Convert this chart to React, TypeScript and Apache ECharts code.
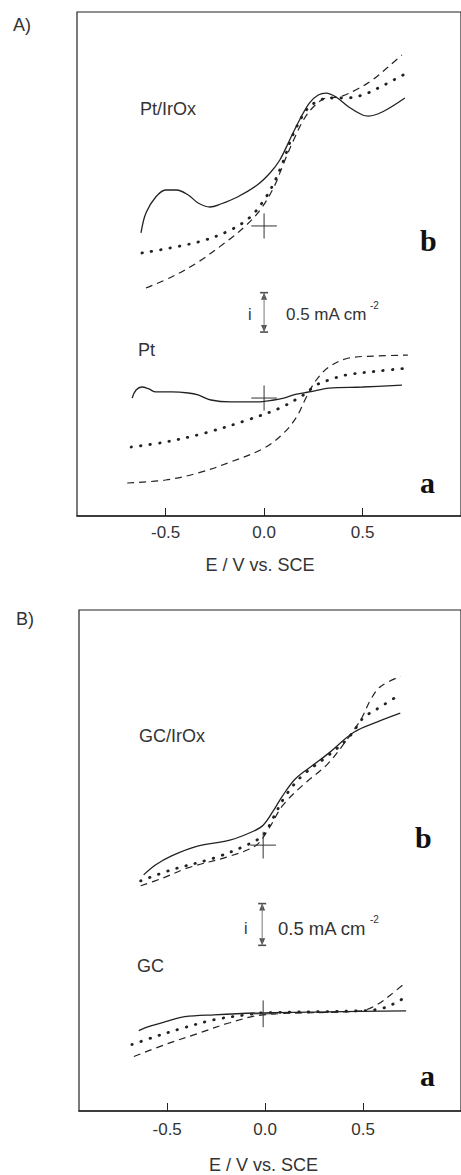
import { useEffect, useRef } from "react";
import * as echarts from "echarts";

// ---------- Data (E / V vs. SCE, i / mA cm^-2 with arbitrary offsets) ----------
// Panel A, curve b: Pt/IrOx
const ptIrOxSolid: [number, number][] = [
  [-0.625, 3.594], [-0.6, 3.848], [-0.55, 4.051], [-0.5, 4.14], [-0.445, 4.14],
  [-0.385, 4.076], [-0.335, 3.975], [-0.275, 3.924], [-0.22, 3.962], [-0.135, 4.051],
  [-0.035, 4.203], [0.03, 4.356], [0.08, 4.521], [0.13, 4.775], [0.18, 5.029],
  [0.23, 5.244], [0.275, 5.346], [0.315, 5.371], [0.365, 5.321], [0.43, 5.194],
  [0.5, 5.092], [0.53, 5.079], [0.6, 5.13], [0.715, 5.308],
];
const ptIrOxDotted: [number, number][] = [
  [-0.62, 3.34], [-0.335, 3.479], [-0.17, 3.632], [-0.07, 3.797], [0.0, 4.013],
  [0.05, 4.229], [0.1, 4.521], [0.13, 4.737], [0.165, 4.94], [0.215, 5.156],
  [0.265, 5.257], [0.33, 5.308], [0.415, 5.308], [0.5, 5.346], [0.58, 5.435],
  [0.715, 5.613],
];
const ptIrOxDashed: [number, number][] = [
  [-0.6, 2.895], [-0.47, 3.035], [-0.335, 3.225], [-0.2, 3.467], [-0.1, 3.67],
  [-0.02, 3.886], [0.05, 4.178], [0.1, 4.483], [0.15, 4.775], [0.2, 5.029],
  [0.25, 5.194], [0.315, 5.308], [0.38, 5.321], [0.465, 5.41], [0.55, 5.537],
  [0.63, 5.702], [0.7, 5.854],
];
// Panel A, curve a: Pt
const ptSolid: [number, number][] = [
  [-0.67, 1.498], [-0.65, 1.6], [-0.62, 1.638], [-0.585, 1.613], [-0.55, 1.575],
  [-0.47, 1.575], [-0.385, 1.562], [-0.335, 1.537], [-0.27, 1.473], [-0.17, 1.448],
  [-0.035, 1.448], [0.05, 1.473], [0.1, 1.498], [0.165, 1.549], [0.23, 1.575],
  [0.33, 1.625], [0.5, 1.638], [0.7, 1.663],
];
const ptDotted: [number, number][] = [
  [-0.675, 0.876], [-0.5, 0.94], [-0.3, 1.054], [-0.085, 1.219], [0.08, 1.371],
  [0.2, 1.537], [0.265, 1.663], [0.33, 1.727], [0.415, 1.79], [0.58, 1.841],
  [0.73, 1.879],
];
const ptDashed: [number, number][] = [
  [-0.695, 0.419], [-0.5, 0.457], [-0.335, 0.546], [-0.17, 0.686], [0.0, 0.863],
  [0.1, 1.054], [0.165, 1.257], [0.215, 1.511], [0.265, 1.727], [0.33, 1.892],
  [0.43, 2.006], [0.58, 2.032], [0.73, 2.044],
];
// Panel B, curve b: GC/IrOx
const gcIrOxSolid: [number, number][] = [
  [-0.62, 2.828], [-0.56, 2.946], [-0.48, 3.053], [-0.345, 3.172], [-0.18, 3.243],
  [-0.06, 3.35], [-0.01, 3.422], [0.04, 3.588], [0.09, 3.778], [0.155, 3.98],
  [0.24, 4.134], [0.32, 4.277], [0.455, 4.538], [0.57, 4.657], [0.69, 4.764],
];
const gcIrOxDotted: [number, number][] = [
  [-0.635, 2.756], [-0.48, 2.887], [-0.26, 3.03], [-0.095, 3.184], [-0.01, 3.303],
  [0.04, 3.505], [0.105, 3.778], [0.19, 4.016], [0.32, 4.253], [0.42, 4.455],
  [0.47, 4.61], [0.505, 4.717], [0.57, 4.812], [0.69, 4.99],
];
const gcIrOxDashed: [number, number][] = [
  [-0.635, 2.697], [-0.52, 2.792], [-0.395, 2.911], [-0.18, 3.053], [-0.045, 3.184],
  [0.02, 3.386], [0.09, 3.659], [0.19, 3.897], [0.32, 4.158], [0.42, 4.455],
  [0.49, 4.693], [0.54, 4.931], [0.59, 5.085], [0.69, 5.204],
];
// Panel B, curve a: GC
const gcSolid: [number, number][] = [
  [-0.645, 0.962], [-0.595, 1.01], [-0.51, 1.069], [-0.41, 1.129], [-0.26, 1.152],
  [-0.01, 1.176], [0.32, 1.188], [0.72, 1.2],
];
const gcDotted: [number, number][] = [
  [-0.68, 0.796], [-0.56, 0.891], [-0.43, 0.986], [-0.26, 1.093], [-0.095, 1.152],
  [-0.01, 1.176], [0.49, 1.2], [0.59, 1.224], [0.655, 1.283], [0.72, 1.366],
];
const gcDashed: [number, number][] = [
  [-0.67, 0.653], [-0.51, 0.796], [-0.345, 0.927], [-0.18, 1.057], [-0.01, 1.152],
  [0.49, 1.2], [0.57, 1.271], [0.64, 1.39], [0.72, 1.544],
];

// zero-current crosses [E, i]
const crossesA: [number, number][] = [[0.0, 3.683], [0.0, 1.498]];
const crossesB: [number, number][] = [[-0.01, 3.184], [-0.01, 1.164]];
// scale bars: [E, i bottom, i top]  (0.5 mA cm^-2)
const scaleBarA: [number, number, number] = [0.0, 2.336, 2.836];
const scaleBarB: [number, number, number] = [-0.015, 1.984, 2.484];

const xTicks = [-0.5, 0, 0.5];
const xRange: [number, number] = [-0.95, 1.0];
const yRangeA: [number, number] = [0, 6.4];
const yRangeB: [number, number] = [0, 6.0];

const SANS = "'Liberation Sans', Arial, sans-serif";
const SERIF = "'Liberation Serif', 'Times New Roman', serif";
const TXT = "#333";
const INK = "#222";

export default function App() {
  const ref = useRef<HTMLDivElement>(null);

  useEffect(() => {
    document.body.style.margin = "0";
    if (!ref.current) return;
    const chart = echarts.init(ref.current, undefined, { renderer: "svg" });

    const solid = { color: INK, width: 1.3, type: "solid" as const };
    const dotted = { color: INK, width: 2.8, type: [0.5, 9] as any, cap: "round" as const };
    const dashed = { color: INK, width: 1.2, type: [7, 5] as any };

    const curve = (data: [number, number][], style: any, g: number) => ({
      type: "line",
      xAxisIndex: g,
      yAxisIndex: g,
      data,
      smooth: 0.35,
      symbol: "none",
      silent: true,
      lineStyle: style,
      z: 3,
    });

    const CROSS_DX = 0.065;
    const CROSS_DY = 0.16;
    const crossSeries = (pts: [number, number][], g: number) =>
      pts.flatMap(([x, y]) => [
        {
          type: "line", xAxisIndex: g, yAxisIndex: g, symbol: "none", silent: true,
          data: [[x - CROSS_DX, y], [x + CROSS_DX, y]],
          lineStyle: { color: TXT, width: 1 },
        },
        {
          type: "line", xAxisIndex: g, yAxisIndex: g, symbol: "none", silent: true,
          data: [[x, y - CROSS_DY], [x, y + CROSS_DY]],
          lineStyle: { color: TXT, width: 1 },
        },
      ]);

    const scaleBar = (b: [number, number, number], g: number) => [
      {
        type: "line", xAxisIndex: g, yAxisIndex: g, symbol: "none", silent: true,
        data: [[b[0], b[1]], [b[0], b[2]]],
        lineStyle: { color: "#777", width: 1 },
      },
      {
        type: "scatter", xAxisIndex: g, yAxisIndex: g, silent: true,
        symbol: "triangle", symbolSize: [6, 7],
        itemStyle: { color: INK },
        data: [
          { value: [b[0], b[2]], symbolOffset: [0, 3.5] },
          { value: [b[0], b[1]], symbolRotate: 180, symbolOffset: [0, -3.5] },
        ],
      },
      {
        type: "scatter", xAxisIndex: g, yAxisIndex: g, silent: true,
        symbol: "rect", symbolSize: [8, 1.6],
        itemStyle: { color: INK },
        data: [[b[0], b[1]], [b[0], b[2]]],
      },
    ];

    const xAxis = (g: number, margin: number, nameGap: number, shift: number) => ({
      type: "value",
      gridIndex: g,
      min: xRange[0],
      max: xRange[1],
      splitLine: { show: false },
      axisLine: { show: true, lineStyle: { color: INK, width: 1.5 } },
      axisTick: {
        show: true, inside: true, length: 8, customValues: xTicks,
        lineStyle: { color: INK, width: 1 },
      },
      axisLabel: {
        customValues: xTicks,
        formatter: (v: number) => Number(v).toFixed(1),
        fontSize: 17, color: TXT, fontFamily: SANS, margin,
      },
      name: "E / V vs. SCE",
      nameLocation: "middle",
      nameGap,
      nameTextStyle: { fontSize: 18, color: TXT, fontFamily: SANS, padding: [0, shift, 0, 0] },
    });

    const yAxis = (g: number, r: [number, number]) => ({
      type: "value", gridIndex: g, min: r[0], max: r[1], show: false,
    });

    const text = (t: string, x: number, y: number, size: number, extra: any = {}) => ({
      type: "text",
      x, y,
      silent: true,
      style: {
        text: t, fill: TXT, font: `${size}px ${SANS}`,
        textVerticalAlign: "middle", verticalAlign: "middle", ...extra,
      },
    });
    const bigLetter = (t: string, x: number, y: number) => ({
      type: "text", x, y, silent: true,
      style: {
        text: t, fill: "#111", font: `bold 30px ${SERIF}`,
        textVerticalAlign: "middle", verticalAlign: "middle",
      },
    });

    chart.setOption({
      animation: false,
      backgroundColor: "#fff",
      grid: [
        { left: 77, top: 12, width: 390, height: 504, show: true, borderColor: INK, borderWidth: 1.2, backgroundColor: "transparent" },
        { left: 79, top: 610, width: 390, height: 505, show: true, borderColor: INK, borderWidth: 1.2, backgroundColor: "transparent" },
      ],
      xAxis: [xAxis(0, 8, 40, 18), xAxis(1, 10, 45, 13)],
      yAxis: [yAxis(0, yRangeA), yAxis(1, yRangeB)],
      series: [
        curve(ptIrOxSolid, solid, 0),
        curve(ptIrOxDotted, dotted, 0),
        curve(ptIrOxDashed, dashed, 0),
        curve(ptSolid, solid, 0),
        curve(ptDotted, dotted, 0),
        curve(ptDashed, dashed, 0),
        curve(gcIrOxSolid, solid, 1),
        curve(gcIrOxDotted, dotted, 1),
        curve(gcIrOxDashed, dashed, 1),
        curve(gcSolid, solid, 1),
        curve(gcDotted, dotted, 1),
        curve(gcDashed, dashed, 1),
        ...crossSeries(crossesA, 0),
        ...crossSeries(crossesB, 1),
        ...scaleBar(scaleBarA, 0),
        ...scaleBar(scaleBarB, 1),
      ],
      graphic: [
        text("A)", 13, 25, 18),
        text("B)", 16, 619, 18),
        text("Pt/IrOx", 140, 109, 18),
        text("Pt", 138, 350, 18),
        text("GC/IrOx", 139, 736, 18),
        text("GC", 137, 966, 18),
        text("i", 248, 314, 16),
        text("0.5 mA cm", 286, 314, 17),
        text("-2", 370, 305, 10),
        text("i", 244, 928, 16),
        text("0.5 mA cm", 278, 928, 18.5),
        text("-2", 370, 919, 10),
        bigLetter("b", 420, 240),
        bigLetter("a", 420, 482),
        bigLetter("b", 415, 837),
        bigLetter("a", 420, 1075),
      ],
    });

    return () => chart.dispose();
  }, []);

  return <div ref={ref} style={{ width: 461, height: 1175 }} />;
}
